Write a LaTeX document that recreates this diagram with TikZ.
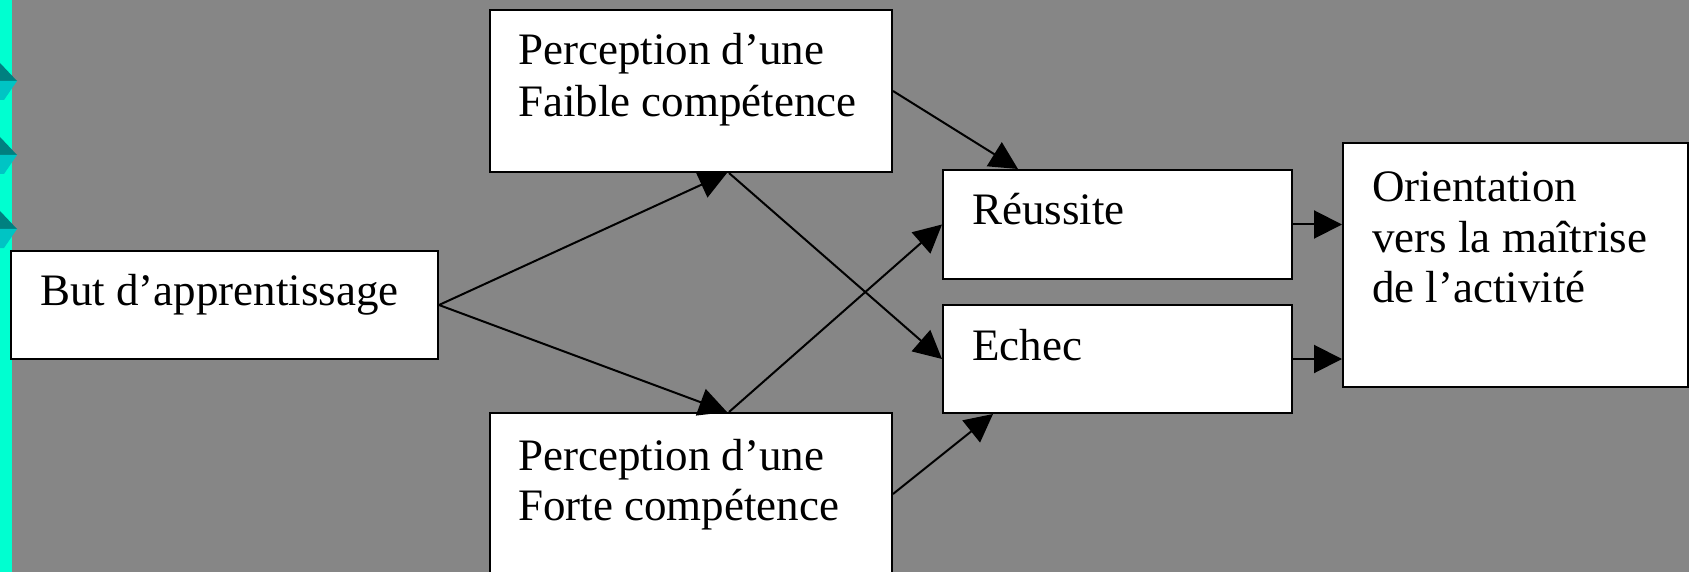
\documentclass[tikz,border=0pt]{standalone}
\usepackage{fontspec}
\setmainfont{Liberation Serif}
\usetikzlibrary{arrows.meta,calc}
\definecolor{bg}{RGB}{134,134,134}
\definecolor{strip}{RGB}{0,255,208}
\definecolor{tealdark}{RGB}{0,128,128}
\definecolor{teallight}{RGB}{0,196,196}
\begin{document}
\begin{tikzpicture}[x=1pt,y=-1pt,
  box/.style={draw=black, line width=2pt, fill=white, inner sep=0pt, anchor=north west},
  txt/.style={anchor=base west, inner sep=0pt, font=\fontsize{45}{50}\selectfont},
  arr/.style={line width=2pt, -{Triangle[length=28pt,width=28pt]}}]
\useasboundingbox (0,0) rectangle (1689,572);
\clip (0,0) rectangle (1689,572);
\fill[bg] (0,0) rectangle (1689,572);
\fill[strip] (0,0) rectangle (12,572);
\foreach \yy in {81,155,229}{
  \fill[tealdark] (0,\yy-18) -- (17,\yy) -- (0,\yy) -- cycle;
  \fill[teallight] (0,\yy) -- (17,\yy) -- (4,\yy+19) -- (0,\yy+19) -- cycle;
}
% boxes
\node[box, minimum width=427pt, minimum height=108pt] (but) at (10,250) {};
\node[box, minimum width=402pt, minimum height=162pt] (faible) at (489,9) {};
\node[box, minimum width=402pt, minimum height=162pt] (forte) at (489,412) {};
\node[box, minimum width=349pt, minimum height=109pt] (reussite) at (942,169) {};
\node[box, minimum width=349pt, minimum height=108pt] (echec) at (942,304) {};
\node[box, minimum width=345pt, minimum height=244pt] (orient) at (1342,142) {};
% texts
\node[txt] (t1) at (40,305) {But d’apprentissage};
\node[txt] (t2) at (518,65) {Perception d’une};
\node[txt] (t3) at (518,117) {Faible compétence};
\node[txt] (t4) at (518,470) {Perception d’une};
\node[txt] (t5) at (518,520) {Forte compétence};
\node[txt] (t6) at (972,225) {Réussite};
\node[txt] (t7) at (972,360) {Echec};
\node[txt] (t8) at (1372,202) {Orientation};
\node[txt] (t9) at (1372,252) {vers la maîtrise};
\node[txt] (t10) at (1372,302) {de l’activité};
% arrows
\draw[arr] (but.east) -- ($(faible.south west)+(238,0)$);
\draw[arr] (but.east) -- ($(forte.north west)+(238,0)$);
\draw[arr] ($(faible.south west)+(240,0)$) -- (echec.west);
\draw[arr] ($(forte.north west)+(240,0)$) -- (reussite.west);
\draw[arr] (faible.east) -- ($(reussite.north west)+(76,0)$);
\draw[arr] (forte.east) -- ($(echec.south west)+(51,0)$);
\draw[arr] (reussite.east) -- (reussite.east -| orient.west);
\draw[arr] (echec.east) -- (echec.east -| orient.west);
\end{tikzpicture}
\end{document}
